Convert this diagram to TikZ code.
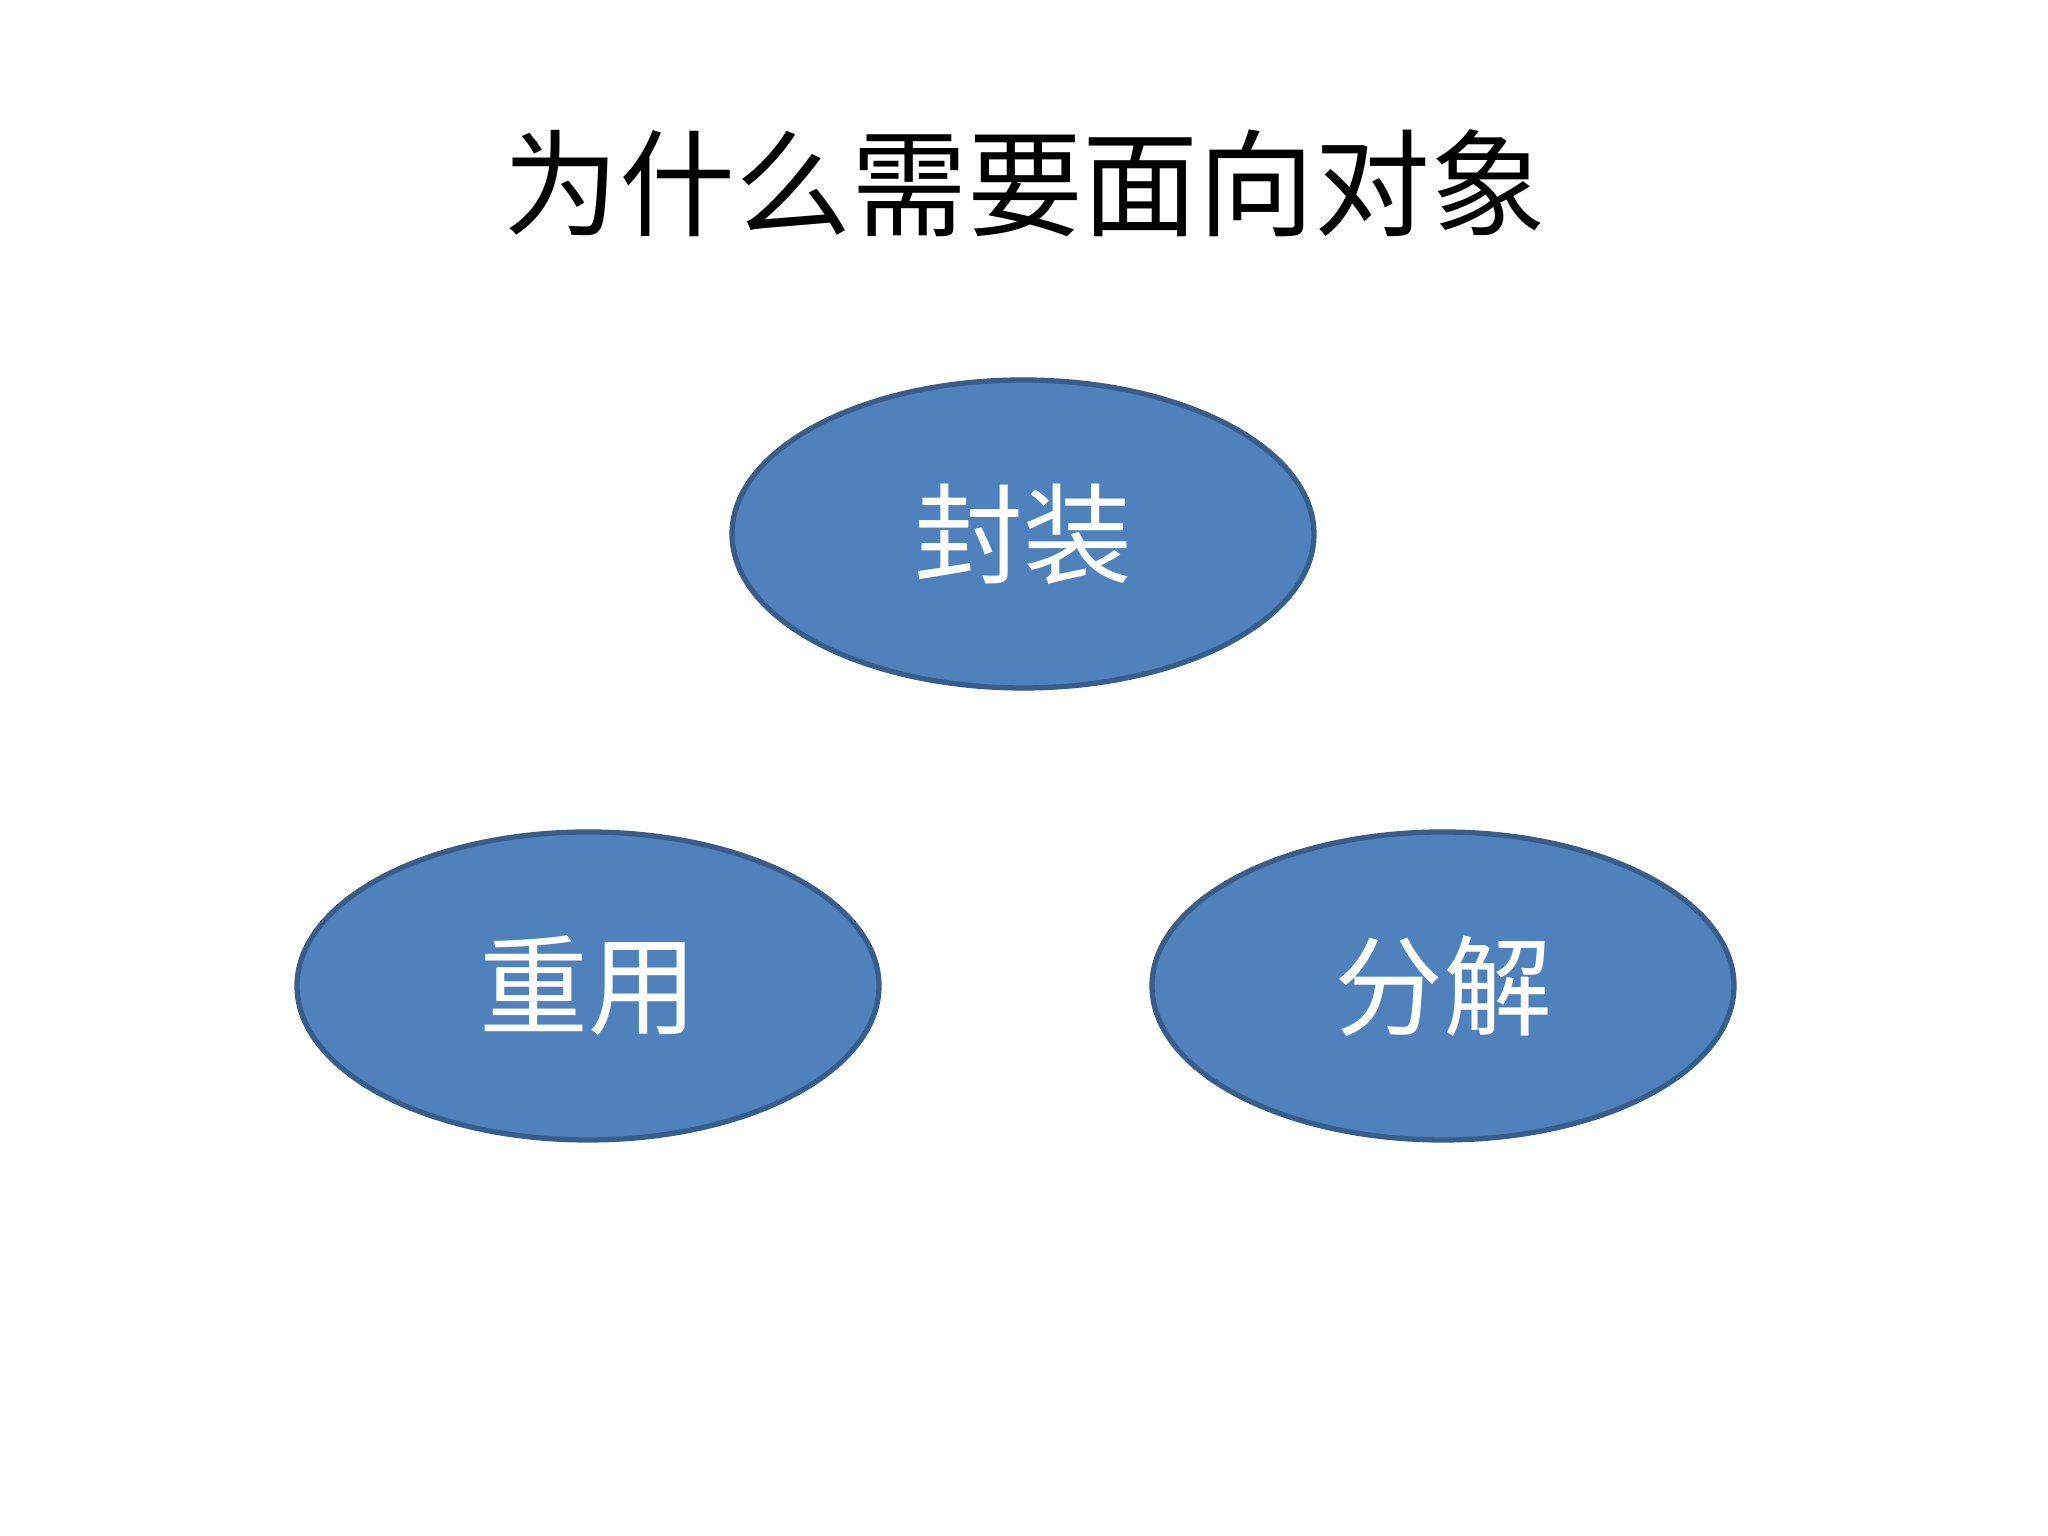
\documentclass[tikz,border=0pt]{standalone}
\usepackage{fontspec}
\newfontfamily\cjk{Noto Sans CJK SC}
\usetikzlibrary{shapes.geometric}
\definecolor{ofill}{HTML}{4F81BD}
\definecolor{oline}{HTML}{385D8A}
\begin{document}
\begin{tikzpicture}
\useasboundingbox (0,0) rectangle (20.48,15.36);
\tikzset{oval/.style={ellipse,draw=oline,fill=ofill,line width=1.5pt,minimum width=5.82cm,minimum height=3.08cm,inner sep=0pt,text=white,font=\cjk\fontsize{31}{36}\selectfont}}
\node[font=\cjk\fontsize{33}{40}\selectfont] (title) at (10.25,13.53) {为什么需要面向对象};
\node[oval] (a) at (10.23,10.02) {封装};
\node[oval] (b) at (5.88,5.50) {重用};
\node[oval] (c) at (14.43,5.50) {分解};
\end{tikzpicture}
\end{document}
